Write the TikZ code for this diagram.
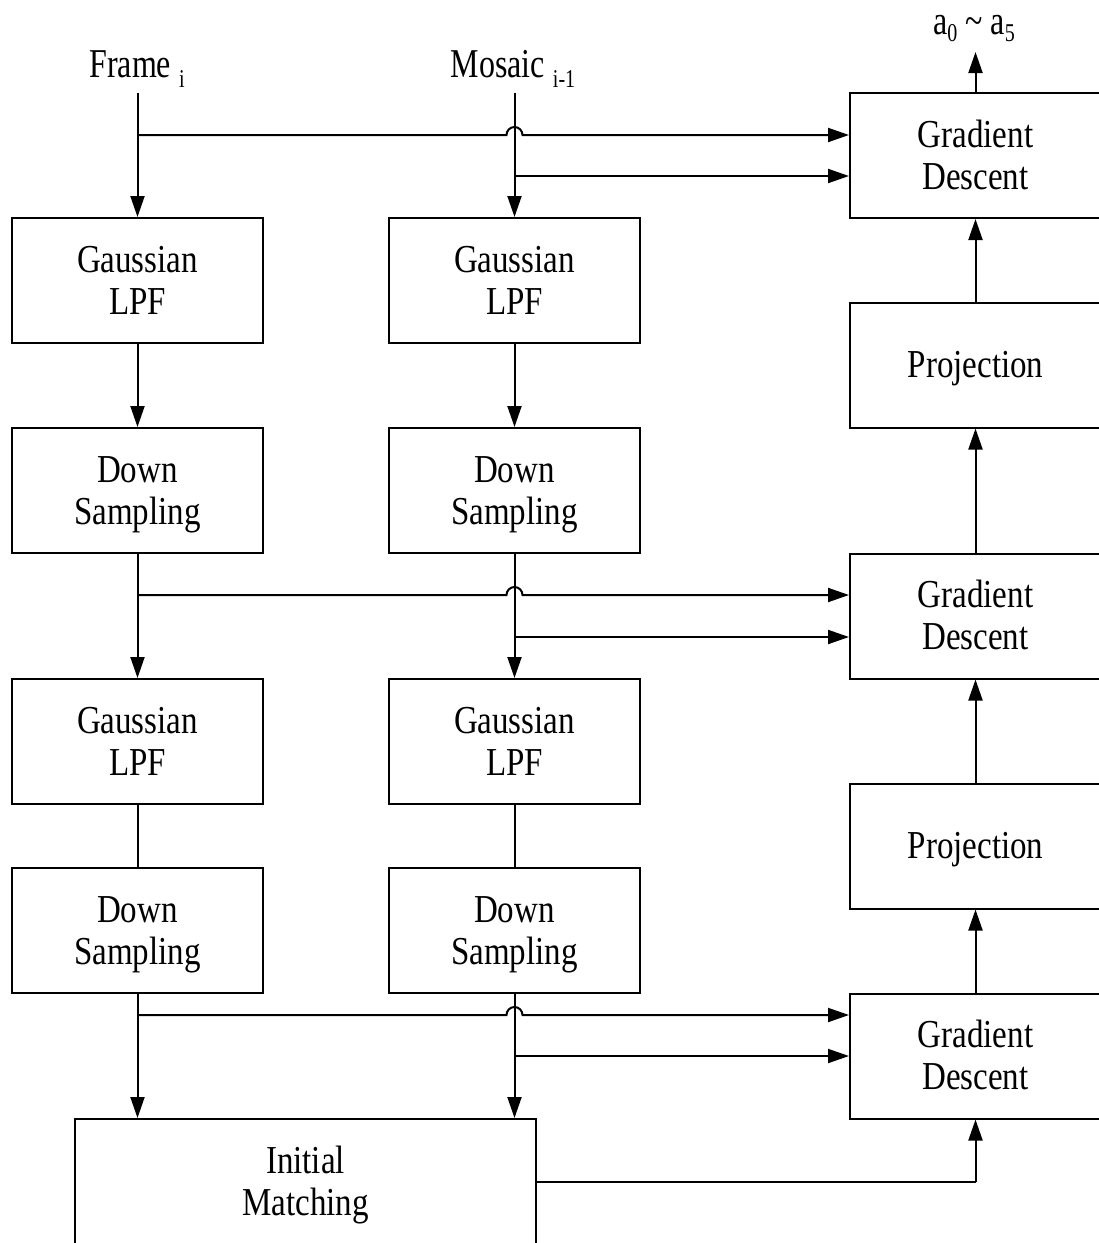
\documentclass[tikz,border=0pt]{standalone}
\usepackage{fontspec}
\setmainfont{Liberation Serif}
\usetikzlibrary{arrows.meta,calc}
\newcommand\boxlbl[1]{\scalebox{1}[1.2]{\begin{tabular}{@{}c@{}}\rule{0pt}{32pt}#1\end{tabular}}}
\newcommand\toplbl[1]{\scalebox{1}[1.28]{#1}}
\newcommand\lowsub[1]{\raisebox{-8pt}{\fontsize{20}{20}\selectfont #1}}
\newcommand\asub[1]{\raisebox{-6pt}{\fontsize{20}{20}\selectfont #1}}
\begin{document}
\begin{tikzpicture}[x=1pt,y=-1pt,
  blk/.style={draw,line width=2pt,minimum width=251pt,minimum height=125pt,inner sep=0pt,
    font=\fontsize{33}{35}\selectfont},
  lab/.style={inner sep=0pt,anchor=base,font=\fontsize{32}{34}\selectfont},
  conn/.style={line width=2pt},
  arr/.style={conn,-{Triangle[length=21pt,width=14pt]}}]
\useasboundingbox (0,0) rectangle (1099,1243);
\clip (0,0) rectangle (1099,1243);
% left column
\node[blk] (g1L) at (137.5,280.5) {\boxlbl{Gaussian\\LPF}};
\node[blk] (d1L) at (137.5,490.5) {\boxlbl{Down\\Sampling}};
\node[blk] (g2L) at (137.5,741.5) {\boxlbl{Gaussian\\LPF}};
\node[blk] (d2L) at (137.5,930.5) {\boxlbl{Down\\Sampling}};
% middle column
\node[blk] (g1M) at (514.5,280.5) {\boxlbl{Gaussian\\LPF}};
\node[blk] (d1M) at (514.5,490.5) {\boxlbl{Down\\Sampling}};
\node[blk] (g2M) at (514.5,741.5) {\boxlbl{Gaussian\\LPF}};
\node[blk] (d2M) at (514.5,930.5) {\boxlbl{Down\\Sampling}};
% right column
\node[blk] (gd1) at (975.5,155.5) {\boxlbl{Gradient\\Descent}};
\node[blk] (p1)  at (975.5,365)   {\boxlbl{Projection}};
\node[blk] (gd2) at (975.5,616)   {\boxlbl{Gradient\\Descent}};
\node[blk] (p2)  at (975.5,846)   {\boxlbl{Projection}};
\node[blk] (gd3) at (975.5,1056)  {\boxlbl{Gradient\\Descent}};
% initial matching
\node[blk,minimum width=461pt,minimum height=126pt] (im) at (305.5,1182) {\boxlbl{Initial\\Matching}};
% labels
\node[lab] (frame)  at (137,77) {\toplbl{Frame\ \lowsub{i}}};
\node[lab] (mosaic) at (513,77) {\toplbl{Mosaic\ \lowsub{i-1}}};
\node[lab] (out)    at (974,34) {\toplbl{a\asub{0} \textasciitilde{} a\asub{5}}};
% coordinates
\coordinate (ftop) at (137.5,93);
\coordinate (mtop) at (514.5,93);
\coordinate (otip) at (975.5,52);
\coordinate (j1) at (137.5,135);
\coordinate (k1) at (514.5,176);
\coordinate (j2) at (137.5,595);
\coordinate (k2) at (514.5,637);
\coordinate (j3) at (137.5,1015);
\coordinate (k3) at (514.5,1056);
\coordinate (imo) at (im.east |- 0,1182);
\coordinate (imc) at (975.5,1182);
% vertical flows
\draw[arr] (ftop) -- (g1L.north);
\draw[arr] (mtop) -- (g1M.north);
\draw[arr] (g1L) -- (d1L);
\draw[arr] (g1M) -- (d1M);
\draw[arr] (d1L) -- (g2L);
\draw[arr] (d1M) -- (g2M);
\draw[conn] (g2L) -- (d2L);
\draw[conn] (g2M) -- (d2M);
\draw[arr] (d2L.south) -- (d2L.south |- im.north);
\draw[arr] (d2M.south) -- (d2M.south |- im.north);
% branches to gradient descent
\foreach \j/\k/\g in {j1/k1/gd1, j2/k2/gd2, j3/k3/gd3}{
  \draw[arr] (\j) -- ($(g1M.north |- \j)+(-8,0)$) arc[start angle=180,end angle=360,radius=8] -- (\g.west |- \j);
  \draw[arr] (\k) -- (\g.west |- \k);
}
% right column upward
\draw[conn] (imo) -- (imc);
\draw[arr] (imc) -- (gd3.south);
\draw[arr] (gd3) -- (p2);
\draw[arr] (p2) -- (gd2);
\draw[arr] (gd2) -- (p1);
\draw[arr] (p1) -- (gd1);
\draw[arr] (gd1.north) -- (otip);
\end{tikzpicture}
\end{document}
